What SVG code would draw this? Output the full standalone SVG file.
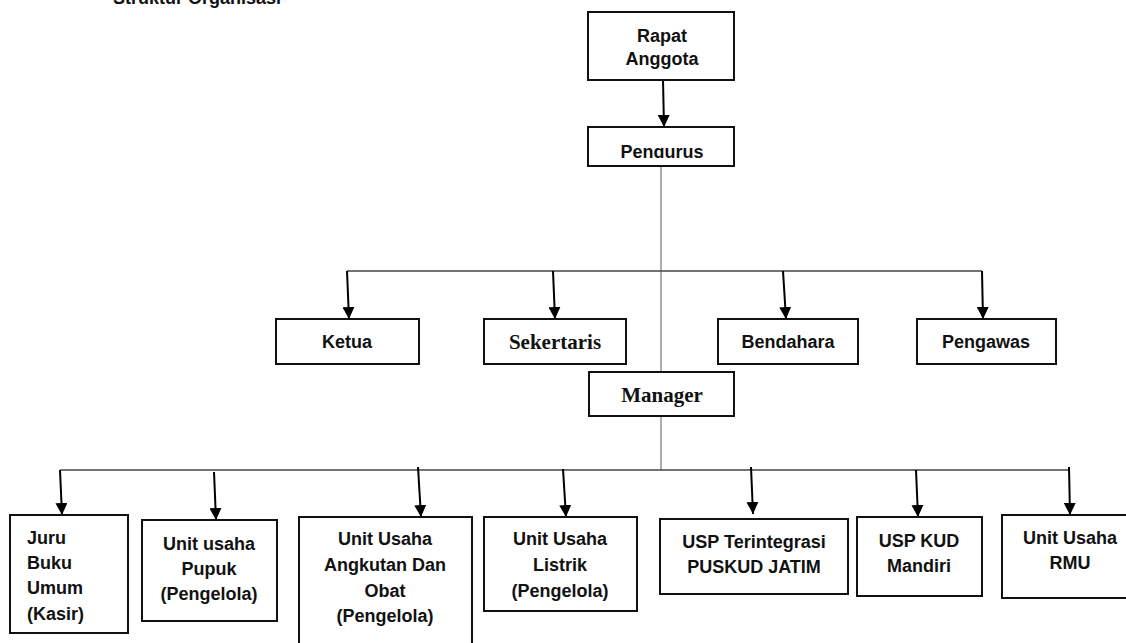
<svg xmlns="http://www.w3.org/2000/svg" width="1126" height="643" viewBox="0 0 1126 643">
<style>
.box{fill:#fff;stroke:#111;stroke-width:2}
.t{font-family:"Liberation Sans",Arial,sans-serif;font-weight:bold;font-size:18px;fill:#111;text-anchor:middle}
.s{font-family:"Liberation Serif","Times New Roman",serif;font-weight:bold;font-size:21px;fill:#111;text-anchor:middle}
.tl{text-anchor:start}
.ln{stroke:#444;stroke-width:1.5;fill:none}
.gl{stroke:#777;stroke-width:1.2;fill:none}
.ar{stroke:#000;stroke-width:2;fill:none;marker-end:url(#ah)}
</style>
<defs>
<marker id="ah" markerUnits="userSpaceOnUse" markerWidth="12" markerHeight="12" refX="12" refY="6" orient="auto">
<path d="M0,0 L12,6 L0,12 z" fill="#000"/>
</marker>
<clipPath id="pc"><rect x="588" y="127" width="146" height="31"/></clipPath>
</defs>
<rect width="1126" height="643" fill="#fff"/>
<text class="t tl" x="113" y="4" font-size="18">Struktur Organisasi</text>
<g id="connectors">
<line class="ar" x1="663" y1="80" x2="664" y2="127"/>
<line class="gl" x1="661" y1="166" x2="661" y2="372"/>
<line class="ln" x1="347" y1="271" x2="982" y2="271"/>
<line class="ar" x1="347" y1="271" x2="349" y2="319"/>
<line class="ar" x1="553" y1="271" x2="555" y2="319"/>
<line class="ar" x1="783" y1="271" x2="786" y2="319"/>
<line class="ar" x1="982" y1="271" x2="983" y2="319"/>
<line class="gl" x1="661" y1="416" x2="661" y2="470"/>
<line class="ln" x1="60" y1="470" x2="1069" y2="470"/>
<line class="ar" x1="60" y1="470" x2="62" y2="515"/>
<line class="ar" x1="214" y1="472" x2="216" y2="520"/>
<line class="ar" x1="418" y1="467" x2="421" y2="517"/>
<line class="ar" x1="563" y1="469" x2="566" y2="517"/>
<line class="ar" x1="751" y1="467" x2="753" y2="514"/>
<line class="ar" x1="916" y1="470" x2="918" y2="517"/>
<line class="ar" x1="1069" y1="467" x2="1070" y2="515"/>
</g>
<g id="rapat"><rect class="box" x="588" y="12" width="146" height="68"/>
<text class="t" x="662" y="42">Rapat</text><text class="t" x="662" y="65">Anggota</text></g>
<g id="pengurus"><rect class="box" x="588" y="127" width="146" height="39"/>
<text class="t" x="662" y="158" clip-path="url(#pc)">Pengurus</text></g>
<g id="ketua"><rect class="box" x="276" y="319" width="143" height="45"/>
<text class="t" x="347" y="348" font-size="17">Ketua</text></g>
<g id="sekertaris"><rect class="box" x="484" y="319" width="142" height="45"/>
<text class="s" x="555" y="349">Sekertaris</text></g>
<g id="bendahara"><rect class="box" x="718" y="319" width="140" height="45"/>
<text class="t" x="788" y="348">Bendahara</text></g>
<g id="pengawas"><rect class="box" x="917" y="319" width="139" height="45"/>
<text class="t" x="986" y="348">Pengawas</text></g>
<g id="manager"><rect class="box" x="589" y="372" width="145" height="44"/>
<text class="s" x="662" y="402">Manager</text></g>
<g id="juru"><rect class="box" x="10" y="515" width="118" height="118"/>
<text class="t tl" x="27" y="544">Juru</text><text class="t tl" x="27" y="569">Buku</text><text class="t tl" x="27" y="594">Umum</text><text class="t tl" x="27" y="620">(Kasir)</text></g>
<g id="pupuk"><rect class="box" x="142" y="520" width="135" height="101"/>
<text class="t" x="209" y="550">Unit usaha</text><text class="t" x="209" y="575">Pupuk</text><text class="t" x="209" y="600">(Pengelola)</text></g>
<g id="angkutan"><rect class="box" x="299" y="517" width="173" height="140"/>
<text class="t" x="385" y="545">Unit Usaha</text><text class="t" x="385" y="571">Angkutan Dan</text><text class="t" x="385" y="597">Obat</text><text class="t" x="385" y="622">(Pengelola)</text></g>
<g id="listrik"><rect class="box" x="484" y="517" width="153" height="94"/>
<text class="t" x="560" y="545">Unit Usaha</text><text class="t" x="560" y="571">Listrik</text><text class="t" x="560" y="597">(Pengelola)</text></g>
<g id="usp-terintegrasi"><rect class="box" x="660" y="519" width="188" height="75"/>
<text class="t" x="754" y="548">USP Terintegrasi</text><text class="t" x="754" y="573">PUSKUD JATIM</text></g>
<g id="usp-kud"><rect class="box" x="857" y="517" width="125" height="79"/>
<text class="t" x="919" y="547">USP KUD</text><text class="t" x="919" y="572">Mandiri</text></g>
<g id="rmu"><rect class="box" x="1002" y="515" width="140" height="83"/>
<text class="t" x="1070" y="544">Unit Usaha</text><text class="t" x="1070" y="569">RMU</text></g>
</svg>
